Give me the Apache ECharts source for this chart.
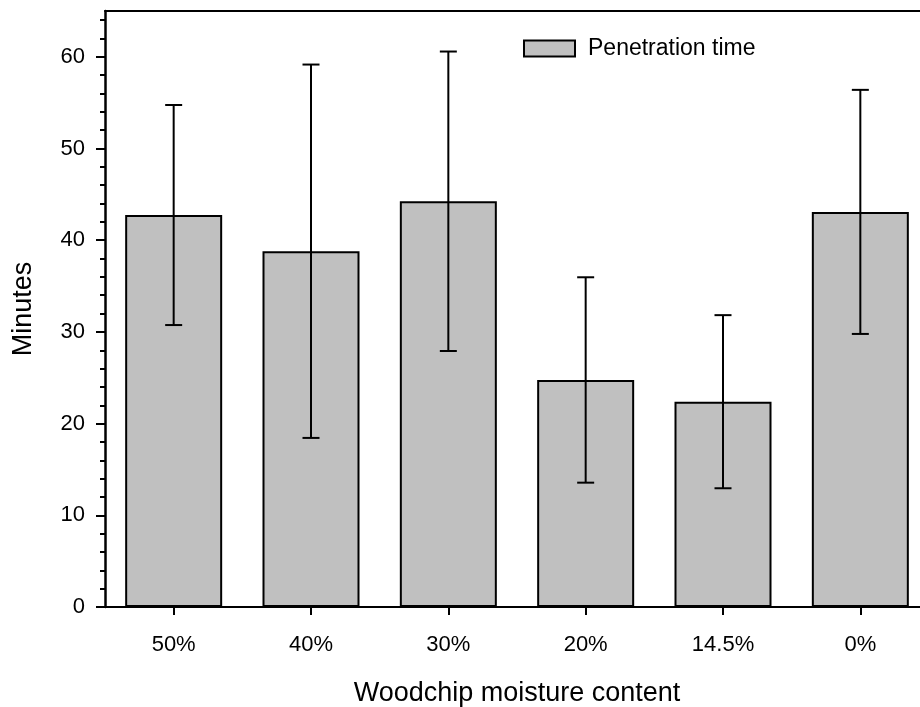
<!DOCTYPE html>
<html>
<head>
<meta charset="utf-8">
<script src="https://cdn.jsdelivr.net/npm/echarts@6/dist/echarts.min.js"></script>
<style>
  html, body { margin: 0; padding: 0; background: #fff; }
  #chart { width: 920px; height: 707px; }
</style>
</head>
<body>
<div id="chart"></div>
<script>
// Penetration time (minutes) by woodchip moisture content, mean ± error
const categories = ['50%', '40%', '30%', '20%', '14.5%', '0%'];
const meanMinutes = [42.75, 38.8, 44.25, 24.76, 22.39, 43.09];
const errMinutes = [12.0, 20.36, 16.33, 11.2, 9.44, 13.31];
const yTicks = [0, 10, 20, 30, 40, 50, 60];

const FONT = "'Liberation Sans', Arial, sans-serif";

const errorData = categories.map((c, i) => [i, meanMinutes[i], errMinutes[i]]);

const chart = echarts.init(document.getElementById('chart'), null, { renderer: 'canvas' });

chart.setOption({
  animation: false,
  backgroundColor: '#fff',
  textStyle: { fontFamily: FONT, color: '#000' },
  grid: { left: 105, top: 11, width: 824, height: 596, outerBoundsMode: 'none', containLabel: false },
  legend: {
    data: ['Penetration time'],
    left: 523,
    top: 37,
    padding: 0,
    icon: 'rect',
    itemWidth: 51,
    itemHeight: 16,
    itemStyle: { color: '#c0c0c0', borderColor: '#000', borderWidth: 2 },
    textStyle: { fontFamily: FONT, fontSize: 23, color: '#000', padding: [0, 0, 0, 8] }
  },
  xAxis: [
    {
      type: 'category',
      data: categories,
      position: 'bottom',
      name: 'Woodchip moisture content',
      nameLocation: 'middle',
      nameGap: 73,
      nameTextStyle: { fontFamily: FONT, fontSize: 27, color: '#000' },
      axisLine: { show: true, lineStyle: { color: '#000', width: 2 } },
      axisTick: { show: true, alignWithLabel: true, inside: false, length: 8, lineStyle: { color: '#000', width: 2 } },
      axisLabel: { interval: 0, fontFamily: FONT, fontSize: 22, color: '#000', margin: 27 },
      splitLine: { show: false }
    },
    {
      type: 'category',
      data: categories,
      position: 'top',
      axisLine: { show: true, lineStyle: { color: '#000', width: 2 } },
      axisTick: { show: false },
      axisLabel: { show: false },
      splitLine: { show: false }
    }
  ],
  yAxis: {
    type: 'value',
    min: 0,
    max: 65,
    interval: 10,
    name: 'Minutes',
    nameLocation: 'middle',
    nameGap: 68,
    nameTextStyle: { fontFamily: FONT, fontSize: 27, color: '#000' },
    axisLine: { show: true, lineStyle: { color: '#000', width: 2.5 } },
    axisTick: { show: true, inside: false, length: 9, customValues: yTicks, lineStyle: { color: '#000', width: 2 } },
    minorTick: { show: true, splitNumber: 5, length: 5, lineStyle: { color: '#000', width: 2 } },
    axisLabel: { customValues: yTicks, fontFamily: FONT, fontSize: 22, color: '#000', margin: 20 },
    splitLine: { show: false },
    minorSplitLine: { show: false }
  },
  series: [
    {
      name: 'Penetration time',
      type: 'bar',
      data: meanMinutes,
      barWidth: 97,
      itemStyle: { color: '#c0c0c0', borderColor: '#000', borderWidth: 2 },
      emphasis: { disabled: true },
      z: 2
    },
    {
      name: 'error',
      type: 'custom',
      data: errorData,
      encode: { x: 0, y: 1 },
      z: 3,
      silent: true,
      renderItem(params, api) {
        const i = api.value(0);
        const m = api.value(1);
        const e = api.value(2);
        const hi = api.coord([i, m + e]);
        const lo = api.coord([i, m - e]);
        const half = 8.5;
        const style = { stroke: '#000', lineWidth: 2 };
        return {
          type: 'group',
          children: [
            { type: 'line', shape: { x1: hi[0], y1: hi[1], x2: lo[0], y2: lo[1] }, style },
            { type: 'line', shape: { x1: hi[0] - half, y1: hi[1], x2: hi[0] + half, y2: hi[1] }, style },
            { type: 'line', shape: { x1: lo[0] - half, y1: lo[1], x2: lo[0] + half, y2: lo[1] }, style }
          ]
        };
      }
    }
  ]
});
</script>
</body>
</html>
